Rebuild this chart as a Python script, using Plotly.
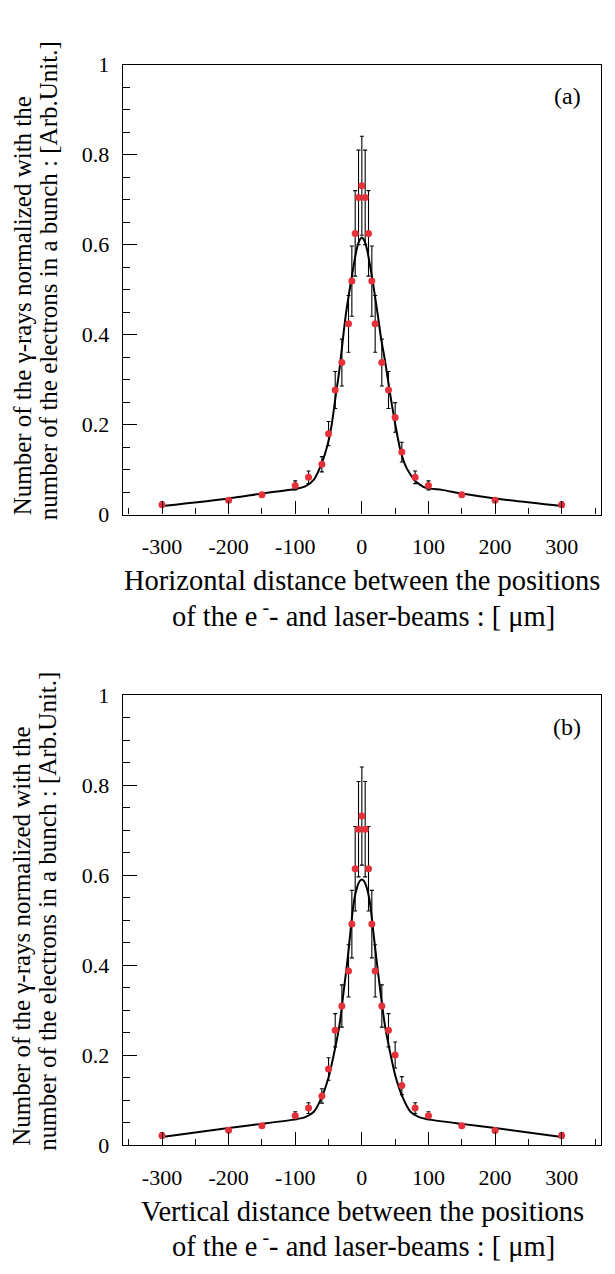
import plotly.graph_objects as go

# ---------------- data ----------------
x_pts = [-300, -200, -150, -100, -80, -60, -50, -40, -30, -20, -15, -10, -5, 0,
         5, 10, 15, 20, 30, 40, 50, 60, 80, 100, 150, 200, 300]

y_a = [0.022, 0.032, 0.044, 0.065, 0.083, 0.112, 0.180, 0.277, 0.338, 0.424, 0.519, 0.625, 0.705, 0.731,
       0.705, 0.625, 0.519, 0.424, 0.338, 0.277, 0.216, 0.139, 0.083, 0.065, 0.044, 0.032, 0.022]
err_a = [0.006, 0.004, 0.004, 0.010, 0.014, 0.017, 0.027, 0.041, 0.052, 0.063, 0.078, 0.095, 0.105, 0.110,
         0.105, 0.095, 0.078, 0.063, 0.052, 0.041, 0.033, 0.022, 0.014, 0.010, 0.004, 0.004, 0.006]

y_b = [0.021, 0.033, 0.043, 0.065, 0.082, 0.109, 0.169, 0.255, 0.309, 0.387, 0.491, 0.614, 0.702, 0.731,
       0.702, 0.614, 0.491, 0.387, 0.309, 0.255, 0.200, 0.132, 0.082, 0.065, 0.043, 0.032, 0.021]
err_b = [0.006, 0.004, 0.004, 0.009, 0.012, 0.016, 0.025, 0.037, 0.047, 0.058, 0.075, 0.094, 0.106, 0.109,
         0.106, 0.094, 0.075, 0.058, 0.047, 0.037, 0.029, 0.020, 0.012, 0.009, 0.004, 0.004, 0.006]

fit_x_a = [-300, -200, -150, -100, -85, -72, -60, -51, -45, -39, -34, -29, -24, -17, -12, -8, -4, 0,
           4, 8, 12, 17, 24, 29, 35, 42, 50, 58, 67, 80, 95, 120, 150, 200, 300]
fit_y_a = [0.019, 0.036, 0.047, 0.057, 0.063, 0.078, 0.115, 0.158, 0.202, 0.267, 0.318, 0.383, 0.445, 0.512,
           0.556, 0.588, 0.608, 0.616,
           0.608, 0.588, 0.556, 0.512, 0.443, 0.390, 0.340, 0.272, 0.202, 0.142, 0.104, 0.075, 0.060, 0.055,
           0.047, 0.036, 0.019]

fit_x_b = [-300, -200, -150, -100, -85, -72, -60, -50, -41, -33.5, -27.5, -21.5, -16, -13, -10, -6, -3, 0,
           3, 6, 10, 13, 16, 22, 28, 34.5, 42, 51, 61, 73, 86, 100, 150, 200, 300]
fit_y_b = [0.018, 0.038, 0.047, 0.057, 0.062, 0.074, 0.107, 0.150, 0.209, 0.267, 0.339, 0.412, 0.490, 0.530,
           0.556, 0.578, 0.587, 0.590,
           0.587, 0.578, 0.556, 0.530, 0.490, 0.412, 0.339, 0.267, 0.209, 0.150, 0.107, 0.074, 0.062, 0.057,
           0.047, 0.038, 0.018]

x_tickvals = [-300, -200, -100, 0, 100, 200, 300]
x_ticktext = ["-300", "-200", "-100", "0", "100", "200", "300"]
x_minorvals = [-350, -250, -150, -50, 50, 150, 250, 350]

ytitle_1 = "Number of the γ-rays normalized with the"
ytitle_2 = "number of the electrons in a bunch : [Arb.Unit.]"
xtitle_a1 = "Horizontal distance between the positions"
xtitle_b1 = "Vertical distance between the positions"
xtitle_2 = "of the e<sup> -</sup>- and laser-beams : [ μm]"
panel_labels = ["(a)", "(b)"]

# ---------------- figure ----------------
W, H = 615, 1274
FONT = "Liberation Serif"
RED = "#e5323a"

def px(v):
    return v / W

def py(v):
    return (H - v) / H

fig = go.Figure()

panels = [
    dict(xa="x", ya="y", y=y_a, e=err_a, fx=fit_x_a, fy=fit_y_a),
    dict(xa="x2", ya="y2", y=y_b, e=err_b, fx=fit_x_b, fy=fit_y_b),
]
for p in panels:
    fig.add_trace(go.Scatter(
        x=p["fx"], y=p["fy"], mode="lines",
        line=dict(color="black", width=2, shape="spline", smoothing=0.6),
        xaxis=p["xa"], yaxis=p["ya"], showlegend=False, hoverinfo="skip"))
    fig.add_trace(go.Scatter(
        x=x_pts, y=p["y"], mode="markers",
        marker=dict(color=RED, size=7, line=dict(width=0)),
        error_y=dict(type="data", array=p["e"], visible=True, color="black",
                     thickness=1.1, width=2),
        xaxis=p["xa"], yaxis=p["ya"], showlegend=False))

# frame geometry (pixels)
x_left, x_right = 122.7, 601.0
frames = [(53.7, 512.7), (696.7, 1155.7)]

axis_common = dict(
    showline=True, linecolor="black", linewidth=1.3, mirror=True,
    ticks="inside", tickcolor="black", tickwidth=1,
    showgrid=False, zeroline=False,
    tickfont=dict(family=FONT, size=22, color="black"),
)

for i, (top, bot) in enumerate(frames):
    sx = "" if i == 0 else "2"
    fig.update_layout(**{
        f"xaxis{sx}": dict(
            domain=[px(x_left), px(x_right)], anchor=f"y{sx}",
            range=[-359, 359], tickmode="array", tickvals=x_tickvals, ticktext=x_ticktext,
            ticklen=13, ticklabelstandoff=12,
            minor=dict(tickmode="array", tickvals=x_minorvals, ticks="inside", ticklen=6,
                       tickcolor="black", tickwidth=1),
            **axis_common),
        f"yaxis{sx}": dict(
            domain=[py(bot), py(top)], anchor=f"x{sx}",
            range=[0, 1], tickmode="linear", tick0=0, dtick=0.2,
            ticklen=14, ticklabelstandoff=8,
            minor=dict(dtick=0.05, ticks="inside", ticklen=7, tickcolor="black", tickwidth=1),
            **axis_common),
    })

annotations = []
for i, (top, bot) in enumerate(frames):
    off = 643 * i
    annotations.append(dict(text=ytitle_1, x=px(22), y=py(516 + off), xref="paper", yref="paper",
                            xanchor="center", yanchor="bottom", textangle=-90, showarrow=False,
                            font=dict(family=FONT, size=25, color="black")))
    annotations.append(dict(text=ytitle_2, x=px(48), y=py(521 + off), xref="paper", yref="paper",
                            xanchor="center", yanchor="bottom", textangle=-90, showarrow=False,
                            font=dict(family=FONT, size=25, color="black")))
    annotations.append(dict(text=xtitle_a1 if i == 0 else xtitle_b1, x=px(362), y=py(580 + off),
                            xref="paper", yref="paper", xanchor="center", yanchor="middle",
                            showarrow=False, font=dict(family=FONT, size=28.5, color="black")))
    annotations.append(dict(text=xtitle_2, x=px(363), y=py(614 + off),
                            xref="paper", yref="paper", xanchor="center", yanchor="middle",
                            showarrow=False, font=dict(family=FONT, size=28.5, color="black")))
    annotations.append(dict(text=panel_labels[i], x=px(567), y=py(86 + off),
                            xref="paper", yref="paper", xanchor="center", yanchor="middle",
                            showarrow=False, font=dict(family=FONT, size=24, color="black")))

fig.update_layout(
    width=W, height=H, margin=dict(l=0, r=0, t=0, b=0),
    paper_bgcolor="white", plot_bgcolor="white",
    annotations=annotations, showlegend=False,
    font=dict(family=FONT, color="black"),
)

fig.write_html("out.html")
